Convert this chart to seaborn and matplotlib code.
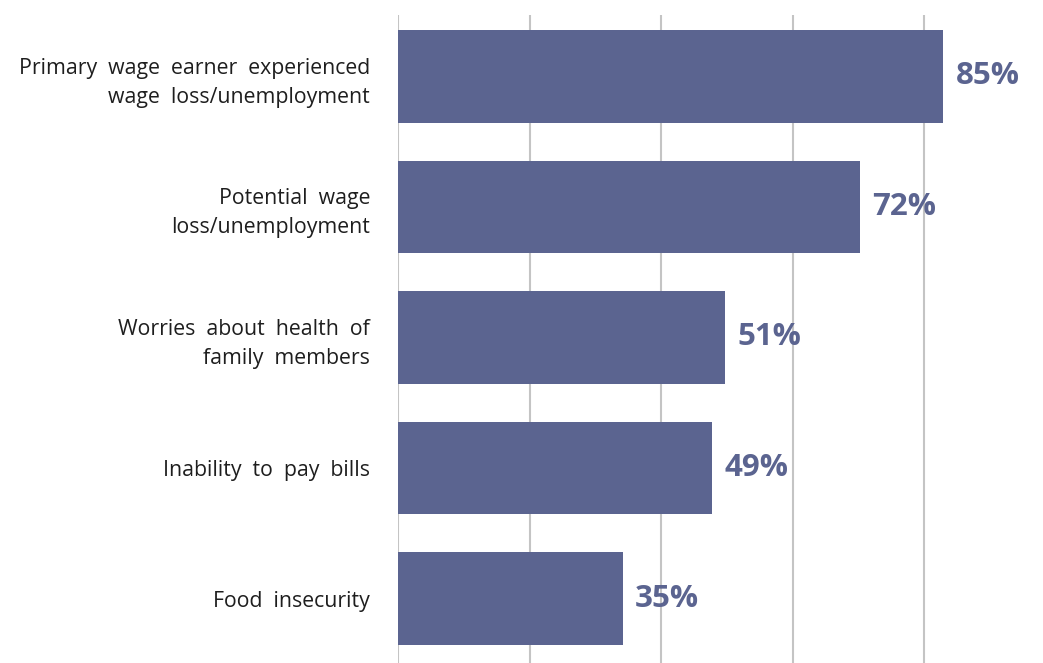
import matplotlib
matplotlib.use("Agg")
import matplotlib.pyplot as plt
import seaborn as sns
import pandas as pd
import numpy as np

categories = [
    "Primary  wage  earner  experienced\nwage  loss/unemployment",
    "Potential  wage\nloss/unemployment",
    "Worries  about  health  of\nfamily  members",
    "Inability  to  pay  bills",
    "Food  insecurity",
]
values = [85, 72, 51, 49, 35]
value_labels = ["85%", "72%", "51%", "49%", "35%"]

df = pd.DataFrame({"category": categories, "value": values})

sns.set_theme(style="white")
plt.rcParams['font.family'] = ['Open Sans', 'DejaVu Sans']

W, H = 1043, 663
fig = plt.figure(figsize=(W / 100, H / 100), dpi=100)
left, right, top, bottom = 398, 1040, 15, 663
ax = fig.add_axes([left / W, 1 - bottom / H, (right - left) / W, (bottom - top) / H])

bar_color = "#5b6490"
sns.barplot(data=df, y="category", x="value", orient="h", color=bar_color,
            width=0.71, saturation=1, ax=ax, zorder=2, linewidth=0)

ax.set_xlim(0, (right - left) / 6.415)
ax.set_ylim(4.494, -0.471)
ax.set_xticks([0, 20.5, 41, 61.5, 82])
ax.set_xticklabels([])
ax.grid(axis="x", color="#c4c4c4", linewidth=1.5, zorder=0)
ax.grid(axis="y", visible=False)
for s in ["top", "right", "bottom", "left"]:
    ax.spines[s].set_visible(False)
ax.tick_params(axis="x", length=0)
ax.tick_params(axis="y", length=0, pad=20, labelsize=15.3, labelcolor="#1e1e1e")
ax.set_xlabel("")
ax.set_ylabel("")
for lbl in ax.get_yticklabels():
    lbl.set_horizontalalignment("right")
    lbl.set_multialignment("right")
    lbl.set_linespacing(1.5)

for i, (v, t) in enumerate(zip(values, value_labels)):
    ax.annotate(t, xy=(v, i), xytext=(9, 0), textcoords="offset points",
                ha="left", va="center", fontsize=22.5, fontweight="bold",
                color=bar_color)

fig.savefig("out.png", dpi=100)
